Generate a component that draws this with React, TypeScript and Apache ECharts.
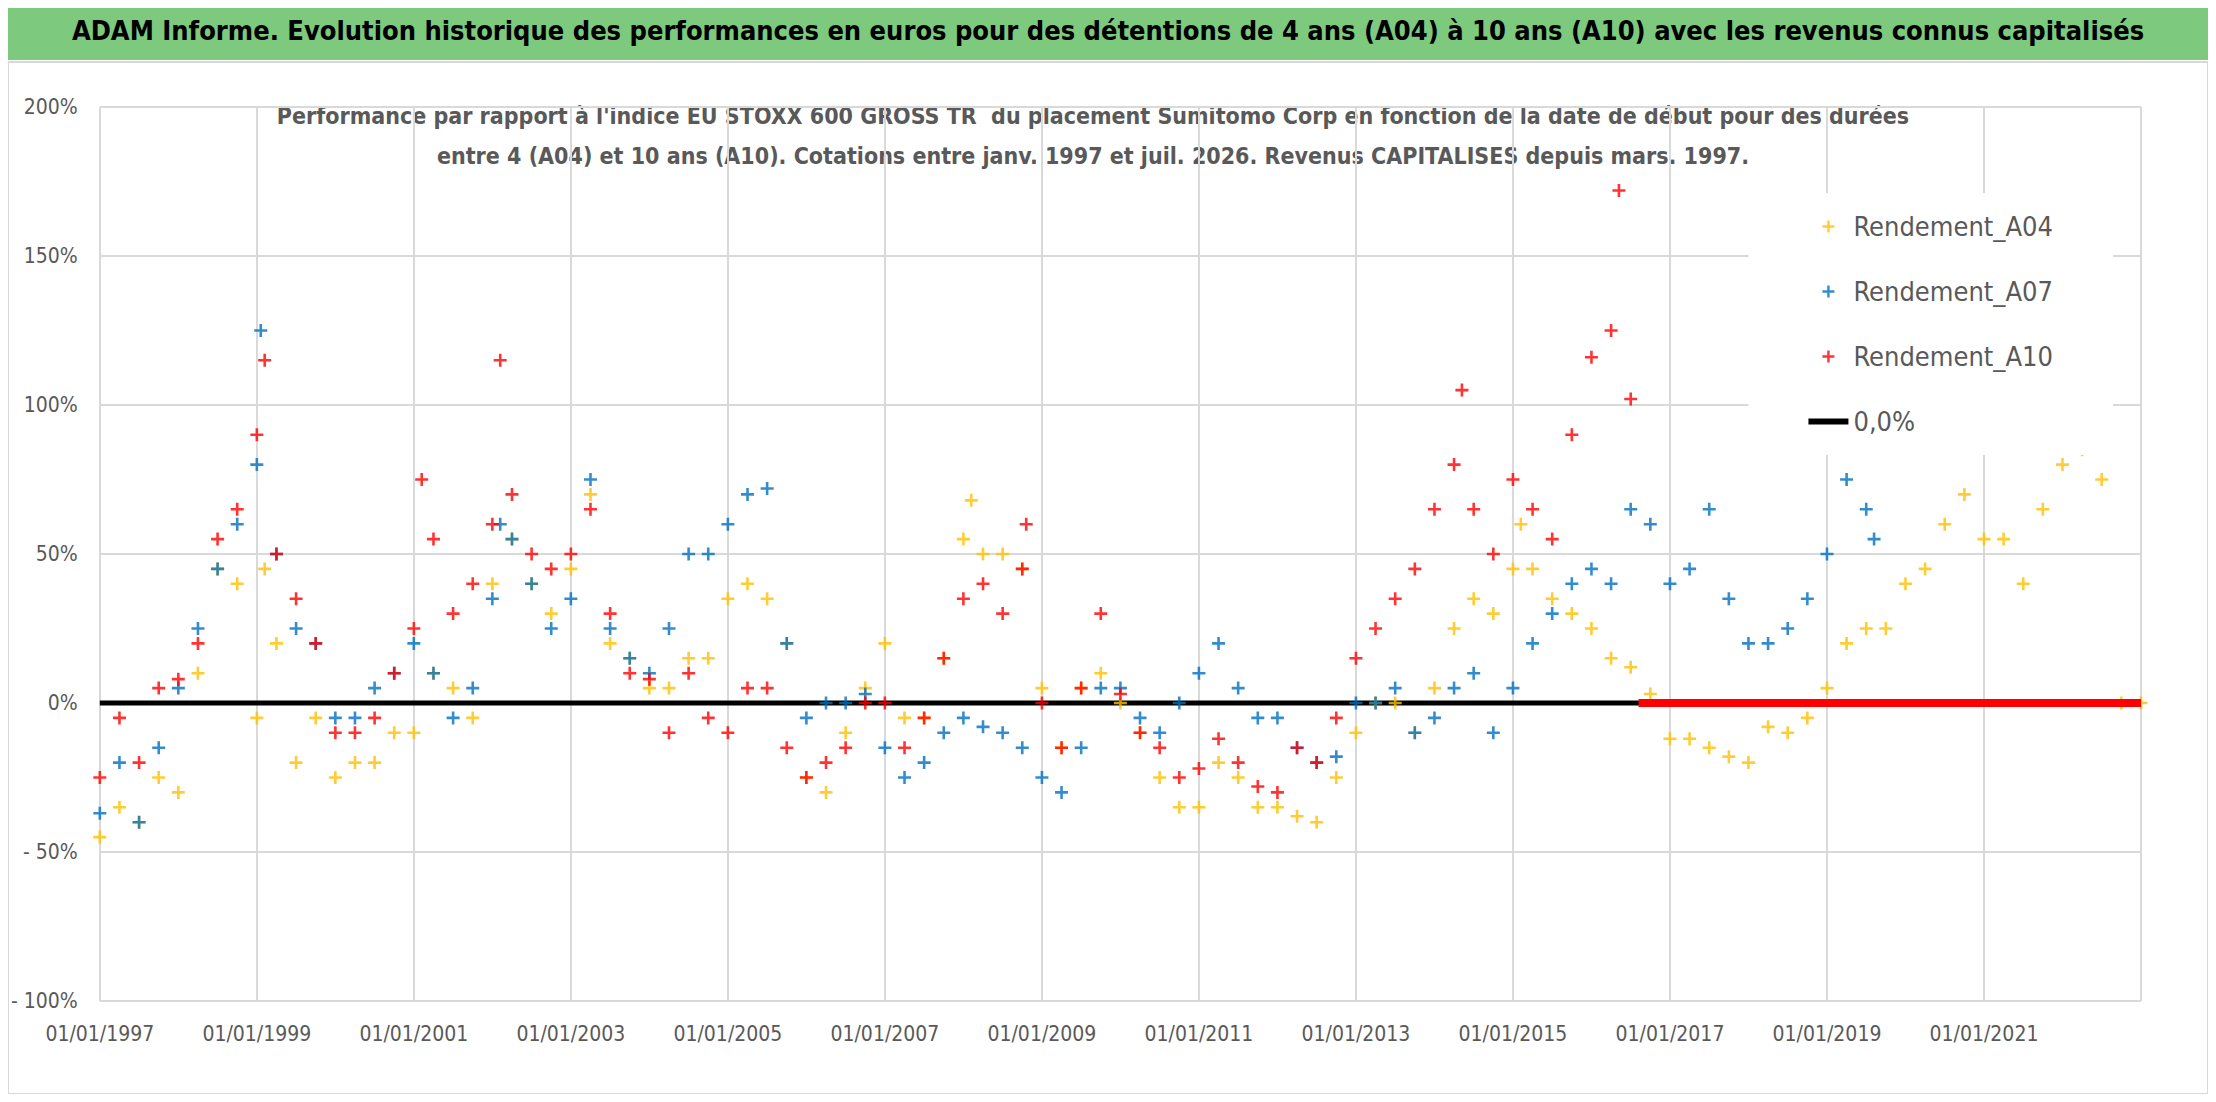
import { useEffect, useRef } from "react";
import * as echarts from "echarts";

// [année décimale, rendement %]
const A04: [number, number][] = [
  [1997.0, -45], [1997.25, -35], [1997.5, -40], [1997.75, -25], [1998.0, -30], [1998.25, 10], [1998.5, 45], [1998.75, 40],
  [1999.0, -5], [1999.1, 45], [1999.25, 20], [1999.5, -20], [1999.75, -5], [2000.0, -25], [2000.25, -20], [2000.5, -20],
  [2000.75, -10], [2001.0, -10], [2001.25, 10], [2001.5, 5], [2001.75, -5], [2002.0, 40], [2002.25, 55], [2002.5, 40],
  [2002.75, 30], [2003.0, 45], [2003.25, 70], [2003.5, 20], [2003.75, 15], [2004.0, 5], [2004.25, 5], [2004.5, 15],
  [2004.75, 15], [2005.0, 35], [2005.25, 40], [2005.5, 35], [2005.75, 20], [2006.0, -25], [2006.25, -30], [2006.5, -10],
  [2006.75, 5], [2007.0, 20], [2007.25, -5], [2007.5, -5], [2007.75, 15], [2008.0, 55], [2008.1, 68], [2008.25, 50], [2008.5, 50],
  [2008.75, 45], [2009.0, 5], [2009.25, -15], [2009.5, 5], [2009.75, 10], [2010.0, 0], [2010.25, -10], [2010.5, -25],
  [2010.75, -35], [2011.0, -35], [2011.25, -20], [2011.5, -25], [2011.75, -35], [2012.0, -35], [2012.25, -38], [2012.5, -40],
  [2012.75, -25], [2013.0, -10], [2013.25, 0], [2013.5, 0], [2013.75, -10], [2014.0, 5], [2014.25, 25], [2014.5, 35],
  [2014.75, 30], [2015.0, 45], [2015.1, 60], [2015.25, 45], [2015.5, 35], [2015.75, 30], [2016.0, 25], [2016.25, 15], [2016.5, 12],
  [2016.75, 3], [2017.0, -12], [2017.25, -12], [2017.5, -15], [2017.75, -18], [2018.0, -20], [2018.25, -8], [2018.5, -10],
  [2018.75, -5], [2019.0, 5], [2019.25, 20], [2019.5, 25], [2019.75, 25], [2020.0, 40], [2020.25, 45], [2020.5, 60],
  [2020.75, 70], [2021.0, 55], [2021.25, 55], [2021.5, 40], [2021.75, 65], [2022.0, 80], [2022.25, 85], [2022.5, 75],
  [2022.75, 0], [2023.0, 0],
];

const A07: [number, number][] = [
  [1997.0, -37], [1997.25, -20], [1997.5, -40], [1997.75, -15], [1998.0, 5], [1998.25, 25], [1998.5, 45], [1998.75, 60],
  [1999.0, 80], [1999.05, 125], [1999.25, 50], [1999.5, 25], [1999.75, 20], [2000.0, -5], [2000.25, -5], [2000.5, 5],
  [2000.75, 10], [2001.0, 20], [2001.25, 10], [2001.5, -5], [2001.75, 5], [2002.0, 35], [2002.1, 60], [2002.25, 55],
  [2002.5, 40], [2002.75, 25], [2003.0, 35], [2003.25, 75], [2003.5, 25], [2003.75, 15], [2004.0, 10], [2004.25, 25],
  [2004.5, 50], [2004.75, 50], [2005.0, 60], [2005.25, 70], [2005.5, 72], [2005.75, 20], [2006.0, -5], [2006.25, 0],
  [2006.5, 0], [2006.75, 3], [2007.0, -15], [2007.25, -25], [2007.5, -20], [2007.75, -10], [2008.0, -5], [2008.25, -8],
  [2008.5, -10], [2008.75, -15], [2009.0, -25], [2009.25, -30], [2009.5, -15], [2009.75, 5], [2010.0, 5], [2010.25, -5],
  [2010.5, -10], [2010.75, 0], [2011.0, 10], [2011.25, 20], [2011.5, 5], [2011.75, -5], [2012.0, -5], [2012.25, -15],
  [2012.5, -20], [2012.75, -18], [2013.0, 0], [2013.25, 0], [2013.5, 5], [2013.75, -10], [2014.0, -5], [2014.25, 5],
  [2014.5, 10], [2014.75, -10], [2015.0, 5], [2015.25, 20], [2015.5, 30], [2015.75, 40], [2016.0, 45], [2016.25, 40],
  [2016.5, 65], [2016.75, 60], [2017.0, 40], [2017.25, 45], [2017.5, 65], [2017.75, 35], [2018.0, 20], [2018.25, 20],
  [2018.5, 25], [2018.75, 35], [2019.0, 50], [2019.25, 75], [2019.5, 65], [2019.6, 55],
];

const A10: [number, number][] = [
  [1997.0, -25], [1997.25, -5], [1997.5, -20], [1997.75, 5], [1998.0, 8], [1998.25, 20], [1998.5, 55], [1998.75, 65],
  [1999.0, 90], [1999.1, 115], [1999.25, 50], [1999.5, 35], [1999.75, 20], [2000.0, -10], [2000.25, -10], [2000.5, -5],
  [2000.75, 10], [2001.0, 25], [2001.1, 75], [2001.25, 55], [2001.5, 30], [2001.75, 40], [2002.0, 60], [2002.1, 115],
  [2002.25, 70], [2002.5, 50], [2002.75, 45], [2003.0, 50], [2003.25, 65], [2003.5, 30], [2003.75, 10], [2004.0, 8],
  [2004.25, -10], [2004.5, 10], [2004.75, -5], [2005.0, -10], [2005.25, 5], [2005.5, 5], [2005.75, -15], [2006.0, -25],
  [2006.25, -20], [2006.5, -15], [2006.75, 0], [2007.0, 0], [2007.25, -15], [2007.5, -5], [2007.75, 15], [2008.0, 35],
  [2008.25, 40], [2008.5, 30], [2008.75, 45], [2008.8, 60], [2009.0, 0], [2009.25, -15], [2009.5, 5], [2009.75, 30],
  [2010.0, 3], [2010.25, -10], [2010.5, -15], [2010.75, -25], [2011.0, -22], [2011.25, -12], [2011.5, -20], [2011.75, -28],
  [2012.0, -30], [2012.25, -15], [2012.5, -20], [2012.75, -5], [2013.0, 15], [2013.25, 25], [2013.5, 35], [2013.75, 45],
  [2014.0, 65], [2014.25, 80], [2014.35, 105], [2014.5, 65], [2014.75, 50], [2015.0, 75], [2015.25, 65], [2015.5, 55],
  [2015.75, 90], [2016.0, 116], [2016.25, 125], [2016.35, 172], [2016.5, 102],
];

// A10 nul après mi-2016
const A10_ZERO: [number, number][] = [[2016.6, 0], [2023.0, 0]];
const ZERO_LINE: [number, number][] = [[1997.0, 0], [2023.0, 0]];

const PLUS = "path://M4,0H6V4H10V6H6V10H4V6H0V4H4Z";
const DASH = "path://M0,0H40V6H0Z";
const FONT = "'DejaVu Sans Condensed', 'Liberation Sans Narrow', 'Open Sans', sans-serif";

export default function App() {
  const ref = useRef<HTMLDivElement | null>(null);

  useEffect(() => {
    if (!ref.current) return;
    const chart = echarts.init(ref.current, undefined, { renderer: "svg" });
    const scatter = (name: string, data: [number, number][], color: string) => ({
      name,
      type: "scatter",
      data,
      symbol: PLUS,
      symbolSize: 13,
      itemStyle: { color },
    });
    chart.setOption({
      animation: false,
      backgroundColor: "#ffffff",
      textStyle: { fontFamily: FONT },
      graphic: [
        { type: "rect", shape: { x: 0, y: 0, width: 2200, height: 52 }, style: { fill: "#7dc97e" } },
        { type: "rect", shape: { x: 0, y: 54, width: 2200, height: 1032 }, style: { fill: "none", stroke: "#d9d9d9", lineWidth: 2 } },
        {
          type: "text",
          left: "center",
          top: 9,
          style: {
            text: "ADAM Informe. Evolution historique des performances en euros pour des détentions de 4 ans (A04) à 10 ans (A10) avec les revenus connus capitalisés",
            font: `bold 27px ${FONT}`,
            fill: "#000",
          },
        },
        {
          type: "text",
          x: 1085,
          y: 88,
          style: {
            text: "Performance par rapport à l'indice EU STOXX 600 GROSS TR  du placement Sumitomo Corp en fonction de la date de début pour des durées\nentre 4 (A04) et 10 ans (A10). Cotations entre janv. 1997 et juil. 2026. Revenus CAPITALISES depuis mars. 1997.",
            font: `bold 23px ${FONT}`,
            fill: "#595959",
            textAlign: "center",
            lineHeight: 40,
          },
        },
      ],
      grid: { left: 90, right: 67, top: 99, bottom: 93 },
      legend: {
        orient: "vertical",
        right: 95,
        top: 185,
        itemGap: 38,
        itemWidth: 40,
        itemHeight: 12,
        backgroundColor: "#ffffff",
        padding: [20, 60, 20, 60],
        textStyle: { fontSize: 27, color: "#595959", fontFamily: FONT },
        data: [
          { name: "Rendement_A04", icon: PLUS },
          { name: "Rendement_A07", icon: PLUS },
          { name: "Rendement_A10", icon: PLUS },
          { name: "0,0%", icon: DASH },
        ],
      },
      xAxis: {
        type: "value",
        min: 1997,
        max: 2023,
        interval: 2,
        axisLine: { show: false },
        axisTick: { show: false },
        splitLine: { show: true, lineStyle: { color: "#d9d9d9", width: 2 } },
        axisLabel: {
          showMaxLabel: false,
          formatter: (v: number) => `01/01/${v}`,
          fontSize: 21,
          color: "#595959",
          margin: 22,
        },
      },
      yAxis: {
        type: "value",
        min: -100,
        max: 200,
        interval: 50,
        axisLine: { show: false },
        axisTick: { show: false },
        splitLine: { lineStyle: { color: "#d9d9d9", width: 2 } },
        axisLabel: {
          formatter: (v: number) => (v < 0 ? `- ${-v}%` : `${v}%`),
          fontSize: 21,
          color: "#595959",
          margin: 22,
        },
      },
      series: [
        {
          name: "0,0%",
          type: "line",
          data: ZERO_LINE,
          symbol: "none",
          lineStyle: { color: "#000000", width: 5 },
          itemStyle: { color: "#000000" },
          z: 1,
        },
        scatter("Rendement_A04", A04, "#FFC000"),
        scatter("Rendement_A07", A07, "#0070C0"),
        scatter("Rendement_A10", A10, "#FF0000"),
        {
          name: "Rendement_A10",
          type: "line",
          data: A10_ZERO,
          symbol: "none",
          lineStyle: { color: "#FF0000", width: 8 },
          itemStyle: { color: "#FF0000" },
          z: 3,
        },
      ],
    });
    return () => chart.dispose();
  }, []);

  return <div ref={ref} style={{ width: 2200, height: 1086 }} />;
}
